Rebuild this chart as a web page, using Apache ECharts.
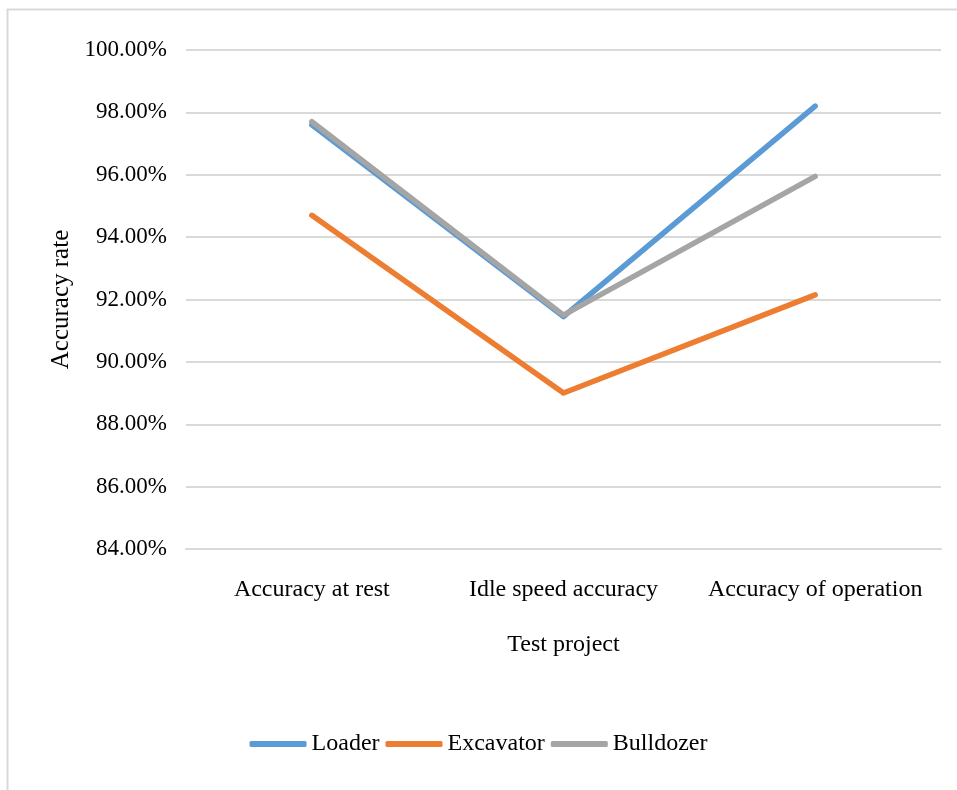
<!DOCTYPE html>
<html>
<head>
<meta charset="utf-8">
<script src="https://cdn.jsdelivr.net/npm/echarts@6/dist/echarts.min.js"></script>
<style>
html,body{margin:0;padding:0;background:#fff;}
#chart{width:957px;height:790px;}
</style>
</head>
<body>
<div id="chart"></div>
<script>
const categories = ['Accuracy at rest', 'Idle speed accuracy', 'Accuracy of operation'];
const loader = [97.6, 91.45, 98.2];
const excavator = [94.7, 89.0, 92.15];
const bulldozer = [97.7, 91.5, 95.95];
const yTicks = { min: 84, max: 100, interval: 2 };

const FONT = '"Liberation Serif", "Times New Roman", serif';
const chart = echarts.init(document.getElementById('chart'));
chart.setOption({
  backgroundColor: '#fff',
  animation: false,
  textStyle: { fontFamily: FONT, color: '#000' },
  graphic: [
    { type: 'line', shape: { x1: 7.5, y1: 9, x2: 7.5, y2: 790 }, style: { stroke: '#d9d9d9', lineWidth: 2 } },
    { type: 'line', shape: { x1: 7, y1: 9.5, x2: 957, y2: 9.5 }, style: { stroke: '#d9d9d9', lineWidth: 2 } }
  ],
  grid: { left: 186, right: 16, top: 50, bottom: 241, containLabel: false },
  legend: {
    top: 727,
    left: 'center',
    icon: 'roundRect',
    itemWidth: 57,
    itemHeight: 6,
    itemGap: 6,
    textStyle: { fontFamily: FONT, fontSize: 24, color: '#000' },
    data: ['Loader', 'Excavator', 'Bulldozer']
  },
  xAxis: {
    type: 'category',
    data: categories,
    boundaryGap: true,
    name: 'Test project',
    nameLocation: 'middle',
    nameGap: 84,
    nameTextStyle: { fontFamily: FONT, fontSize: 24, color: '#000' },
    axisTick: { show: false },
    axisLine: { lineStyle: { color: '#d9d9d9', width: 2 } },
    axisLabel: { interval: 0, fontFamily: FONT, fontSize: 24, color: '#000', margin: 29 }
  },
  yAxis: {
    type: 'value',
    min: yTicks.min,
    max: yTicks.max,
    interval: yTicks.interval,
    name: 'Accuracy rate',
    nameLocation: 'middle',
    nameGap: 112,
    nameTextStyle: { fontFamily: FONT, fontSize: 25, color: '#000' },
    axisLine: { show: false },
    axisTick: { show: false },
    splitLine: { lineStyle: { color: '#d9d9d9', width: 2 } },
    axisLabel: {
      fontFamily: FONT, fontSize: 23, color: '#000', margin: 19,
      formatter: v => v.toFixed(2) + '%'
    }
  },
  series: [
    { name: 'Loader', type: 'line', data: loader, symbol: 'none', lineStyle: { color: '#5B9BD5', width: 5.5, cap: 'round', join: 'round' }, itemStyle: { color: '#5B9BD5' } },
    { name: 'Excavator', type: 'line', data: excavator, symbol: 'none', lineStyle: { color: '#ED7D31', width: 5.5, cap: 'round', join: 'round' }, itemStyle: { color: '#ED7D31' } },
    { name: 'Bulldozer', type: 'line', data: bulldozer, symbol: 'none', lineStyle: { color: '#A5A5A5', width: 5.5, cap: 'round', join: 'round' }, itemStyle: { color: '#A5A5A5' } }
  ]
});
</script>
</body>
</html>
